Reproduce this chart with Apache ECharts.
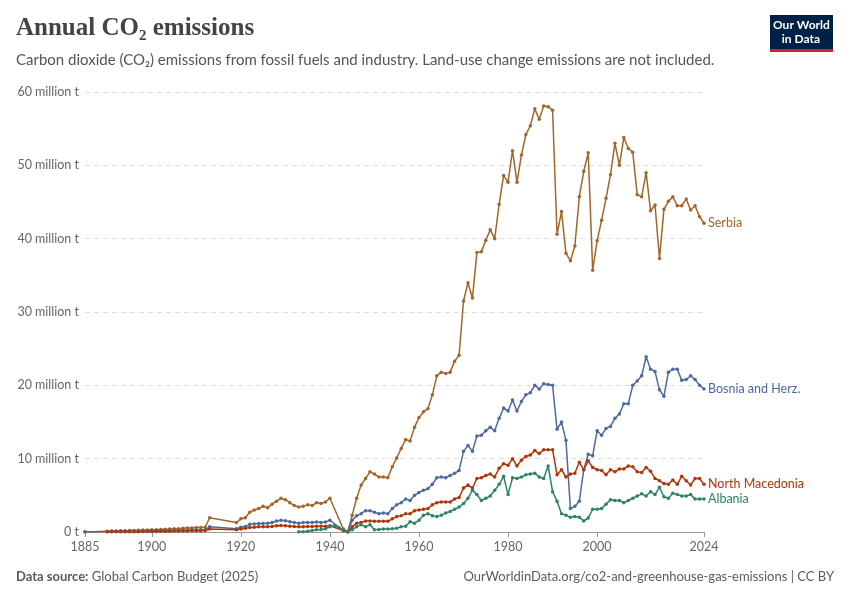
<!DOCTYPE html>
<html><head><meta charset="utf-8">
<script src="https://cdn.jsdelivr.net/npm/echarts@6/dist/echarts.min.js"></script>
<style>body{margin:0;background:#fff}#c{width:850px;height:600px}</style>
</head><body><div id="c"></div>
<script>
const xTicks=[1885,1900,1920,1940,1960,1980,2000,2024];
const earlyYears=[1885,1890,1891,1892,1893,1894,1895,1896,1897,1898,1899,1900,1901,1902,1903,1904,1905,1906,1907,1908,1909,1910,1911,1912,1913,1919,1920,1921,1922,1923,1924,1925,1926,1927,1928,1929,1930,1931,1932,1933,1934,1935,1936,1937,1938,1939,1940,1943,1944];
const modernYears=[];for(let y=1945;y<=2024;y++)modernYears.push(y);
const serbiaEarly=[0,0.1,0.12,0.14,0.16,0.18,0.2,0.22,0.24,0.26,0.28,0.3,0.32,0.35,0.38,0.4,0.43,0.46,0.5,0.53,0.56,0.6,0.63,0.65,1.95,1.3,1.8,1.95,2.7,3.0,3.2,3.5,3.3,3.8,4.2,4.6,4.4,4.0,3.6,3.4,3.5,3.7,3.6,4.0,3.9,4.1,4.6,0.4,0.05];
const serbiaModern=[2.3,4.6,6.4,7.3,8.2,7.9,7.5,7.5,7.4,8.9,10.1,11.4,12.6,12.4,14.3,15.6,16.4,16.8,18.7,21.3,21.8,21.6,21.8,23.3,24.1,31.5,34.0,31.9,38.1,38.2,39.8,41.2,40.0,44.7,48.6,47.7,52.0,47.7,51.4,54.2,55.4,57.7,56.3,58.1,58.0,57.5,40.6,43.7,38.0,37.0,39.0,45.7,49.2,51.7,35.7,39.7,42.5,45.5,48.7,53.0,50.0,53.8,52.3,51.8,46.0,45.7,49.0,43.8,44.6,37.3,44.0,45.1,45.7,44.5,44.5,45.4,43.9,44.5,43.0,42.1];
const bosniaEarly=[0.05,0.08,0.09,0.1,0.1,0.11,0.12,0.13,0.14,0.15,0.16,0.17,0.18,0.19,0.2,0.21,0.22,0.23,0.24,0.25,0.26,0.27,0.28,0.3,0.7,0.45,0.65,0.75,1.05,1.1,1.15,1.15,1.2,1.3,1.5,1.6,1.55,1.4,1.3,1.2,1.3,1.3,1.3,1.35,1.3,1.35,1.6,0.2,0.05];
const bosniaModern=[1.6,2.2,2.5,2.9,2.9,2.7,2.5,2.6,2.5,3.2,3.7,4.0,4.5,4.3,5.0,5.4,5.7,5.9,6.5,7.4,7.5,7.4,7.7,8.0,8.4,11.0,11.8,11.0,13.1,13.2,13.8,14.3,13.8,15.5,16.9,16.5,18.0,16.5,17.8,18.7,19.0,20.0,19.5,20.2,20.1,20.0,14.0,15.0,12.5,3.2,3.5,4.2,8.5,10.6,10.4,13.8,13.2,14.1,14.4,15.5,16.1,17.5,17.5,20.0,20.6,21.3,23.9,22.2,21.9,19.4,18.5,21.8,22.2,22.2,20.7,20.8,21.3,20.8,20.0,19.5];
const macedoniaEarly=[0.01,0.02,0.02,0.03,0.03,0.04,0.04,0.05,0.05,0.06,0.06,0.07,0.08,0.09,0.1,0.11,0.12,0.13,0.14,0.15,0.16,0.17,0.18,0.2,0.4,0.3,0.4,0.5,0.6,0.65,0.7,0.7,0.72,0.75,0.85,0.9,0.85,0.8,0.75,0.72,0.72,0.75,0.75,0.78,0.78,0.8,0.85,0.2,0.05];
const macedoniaModern=[0.7,1.2,1.3,1.5,1.5,1.45,1.45,1.45,1.45,1.8,2.1,2.2,2.5,2.5,2.9,3.0,3.1,3.2,3.7,4.0,4.1,4.1,4.1,4.5,4.7,6.0,6.4,6.0,7.3,7.4,7.7,7.9,7.5,8.7,9.3,9.1,10.0,9.0,9.8,10.3,10.5,11.1,10.7,11.2,11.2,11.2,7.8,8.5,7.5,7.9,8.0,9.5,8.5,9.7,8.8,8.5,8.4,7.8,8.5,8.2,8.6,8.6,9.0,8.9,8.2,8.1,8.8,8.3,7.3,7.0,6.6,6.5,7.1,6.5,7.6,7.0,6.4,7.3,7.3,6.5];
const albaniaEarlyYears=[1933,1934,1935,1936,1937,1938,1939,1940,1941,1942,1943,1944];
const albaniaEarly=[0.05,0.05,0.1,0.2,0.3,0.35,0.45,0.7,0.85,0.6,0.3,0.05];
const albaniaModern=[0.3,0.7,1.0,0.7,1.0,0.3,0.35,0.4,0.4,0.45,0.5,0.7,0.8,1.4,1.2,1.6,2.3,2.5,2.2,2.1,2.3,2.6,2.8,3.1,3.4,3.9,4.6,5.7,5.1,4.3,4.6,4.9,5.7,6.5,7.6,5.1,7.4,7.3,7.5,7.8,7.9,8.0,7.5,7.3,9.0,5.5,4.2,2.5,2.3,2.0,2.1,2.0,1.5,1.9,3.1,3.1,3.2,3.8,4.4,4.3,4.3,4.0,4.3,4.6,4.9,5.2,4.9,5.5,5.1,6.1,4.8,4.6,5.3,5.1,4.9,4.9,5.1,4.5,4.5,4.5];

function pairs(ys,vs){return ys.map((y,i)=>[y,vs[i]*1e6]);}
const series=[
 {name:'Serbia',color:'#a2662a',d:pairs(earlyYears,serbiaEarly).concat(pairs(modernYears,serbiaModern))},
 {name:'Bosnia and Herz.',color:'#4c6a9c',d:pairs(earlyYears,bosniaEarly).concat(pairs(modernYears,bosniaModern))},
 {name:'North Macedonia',color:'#b13507',d:pairs(earlyYears.slice(1),macedoniaEarly.slice(1)).concat(pairs(modernYears,macedoniaModern))},
 {name:'Albania',color:'#2c8465',d:pairs(albaniaEarlyYears,albaniaEarly).concat(pairs(modernYears,albaniaModern))}
];
const chart=echarts.init(document.getElementById('c'));
chart.setOption({
 animation:false,
 graphic:[
  {type:'text',left:16,top:16,style:{text:'Annual CO₂ emissions',font:'bold 25px "Liberation Serif", serif',fill:'#444'}},
  {type:'text',left:16,top:53,style:{text:'Carbon dioxide (CO₂) emissions from fossil fuels and industry. Land-use change emissions are not included.',font:'15px Lato, sans-serif',fill:'#555'}},
  {type:'rect',left:770,top:15,shape:{width:63,height:35},style:{fill:'#002147'}},
  {type:'rect',left:770,top:49,shape:{width:63,height:3},style:{fill:'#ce261e'}},
  {type:'text',left:773,top:18,style:{text:'Our World\n   in Data',font:'bold 12px Lato, sans-serif',fill:'#fff',lineHeight:14}},
  {type:'text',left:16,top:570,style:{rich:{b:{font:'bold 13px Lato, sans-serif',fill:'#5b5b5b'},n:{font:'13px Lato, sans-serif',fill:'#5b5b5b'}},text:'{b|Data source:} {n|Global Carbon Budget (2025)}'}},
  {type:'text',right:16,top:570,style:{text:'OurWorldinData.org/co2-and-greenhouse-gas-emissions | CC BY',font:'13px Lato, sans-serif',fill:'#5b5b5b'}}
 ],
 grid:{left:85,right:146,top:92,bottom:68},
 xAxis:{type:'value',min:1885,max:2024,
  axisLine:{lineStyle:{color:'#999'}},
  axisTick:{customValues:xTicks,length:5,lineStyle:{color:'#999'}},
  axisLabel:{customValues:xTicks,color:'#666',fontSize:12.5,fontFamily:'Lato',formatter:v=>String(v)},
  splitLine:{show:false}},
 yAxis:{type:'value',min:0,max:60e6,interval:10e6,
  axisLine:{show:false},axisTick:{show:false},
  axisLabel:{color:'#666',fontSize:12.5,fontFamily:'Lato',margin:6,formatter:v=>v===0?'0 t':(v/1e6)+' million t'},
  splitLine:{lineStyle:{color:'#ddd',type:[5,4]}}},
 series:series.map(s=>({type:'line',name:s.name,data:s.d,color:s.color,symbol:'circle',symbolSize:3.5,
  lineStyle:{width:1.5},
  endLabel:{show:true,formatter:s.name,color:s.color,fontSize:12.5,fontFamily:'Lato',distance:4}}))
});
</script></body></html>
